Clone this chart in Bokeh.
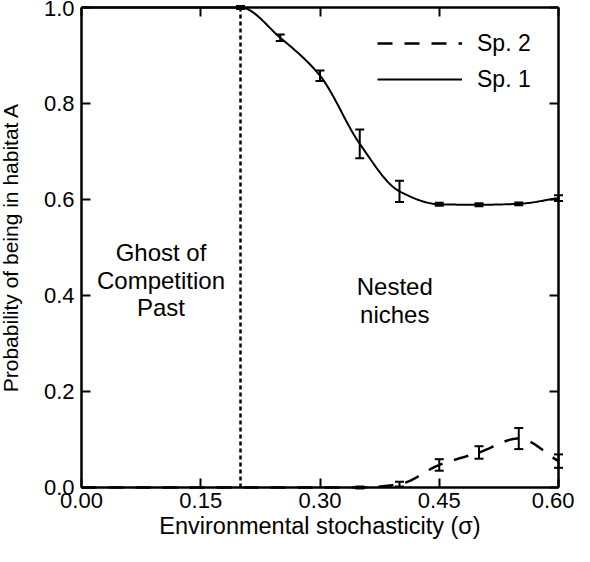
import numpy as np
from bokeh.plotting import figure
from bokeh.models import (ColumnDataSource, Whisker, TeeHead, LinearAxis, FixedTicker,
                          NumeralTickFormatter, Label, Legend, LegendItem, Range1d)
from bokeh.embed import file_html
from bokeh.resources import INLINE

# ---------------- data ----------------
sigma = [0.00, 0.05, 0.10, 0.15, 0.20, 0.25, 0.30, 0.35, 0.40, 0.45, 0.50, 0.55, 0.60]
sp1 = [1.0, 1.0, 1.0, 1.0, 1.0, 0.937, 0.858, 0.716, 0.617, 0.590, 0.589, 0.591, 0.603]
sp1_err = [0.0, 0.0, 0.0, 0.0, 0.003, 0.007, 0.011, 0.030, 0.022, 0.003, 0.003, 0.003, 0.006]
sp2 = [0.0, 0.0, 0.0, 0.0, 0.0, 0.0, 0.0, 0.0, 0.007, 0.047, 0.073, 0.102, 0.055]
sp2_err = [0.0, 0.0, 0.0, 0.0, 0.0, 0.0, 0.0, 0.002, 0.005, 0.012, 0.013, 0.022, 0.014]
boundary = 0.20
x_ticks = [0.00, 0.15, 0.30, 0.45, 0.60]
y_ticks = [0.0, 0.2, 0.4, 0.6, 0.8, 1.0]
X_MIN, X_MAX = 0.0, 0.6
Y_MIN, Y_MAX = 0.0, 1.0

FONT = "Liberation Sans"

# ---------------- layout (pixels) ----------------
W, H = 574, 546            # whole figure = frame
PAD_L, PAD_R, PAD_T, PAD_B = 81, 16, 7, 59   # space around the data box
px_x = (W - PAD_L - PAD_R) / (X_MAX - X_MIN)
px_y = (H - PAD_T - PAD_B) / (Y_MAX - Y_MIN)


def pchip(x, y, n=400):
    """Monotone cubic (Fritsch-Carlson) curve through the data points."""
    x = np.asarray(x, float)
    y = np.asarray(y, float)
    h = np.diff(x)
    d = np.diff(y) / h
    m = np.zeros_like(y)
    for k in range(1, len(x) - 1):
        if d[k - 1] * d[k] > 0:
            w1 = 2 * h[k] + h[k - 1]
            w2 = h[k] + 2 * h[k - 1]
            m[k] = (w1 + w2) / (w1 / d[k - 1] + w2 / d[k])
    m[0] = d[0]
    m[-1] = d[-1]
    xs = np.linspace(x[0], x[-1], n)
    idx = np.clip(np.searchsorted(x, xs) - 1, 0, len(x) - 2)
    t = (xs - x[idx]) / h[idx]
    h00 = 2 * t**3 - 3 * t**2 + 1
    h10 = t**3 - 2 * t**2 + t
    h01 = -2 * t**3 + 3 * t**2
    h11 = t**3 - t**2
    ys = h00 * y[idx] + h10 * h[idx] * m[idx] + h01 * y[idx + 1] + h11 * h[idx] * m[idx + 1]
    return xs, ys


p = figure(frame_width=W, frame_height=H, output_backend="svg", toolbar_location=None,
           x_range=Range1d(X_MIN - PAD_L / px_x, X_MAX + PAD_R / px_x),
           y_range=Range1d(Y_MIN - PAD_B / px_y, Y_MAX + PAD_T / px_y),
           min_border=0, min_border_left=0, min_border_right=0,
           min_border_top=0, min_border_bottom=0)
p.outline_line_color = None
p.grid.visible = False
p.background_fill_color = "white"
p.border_fill_color = "white"

# main axes, drawn at fixed data locations (box corners)
for ax in (p.xaxis[0], p.yaxis[0]):
    ax.axis_line_width = 2.5
    ax.axis_line_color = "black"
    ax.major_tick_in = 9
    ax.major_tick_out = 0
    ax.major_tick_line_width = 2
    ax.major_tick_line_color = "black"
    ax.minor_tick_line_color = None
    ax.major_label_text_font = FONT
    ax.major_label_text_font_size = "22px"
    ax.major_label_text_color = "black"
    ax.axis_label_text_font = FONT
    ax.axis_label_text_font_style = "normal"
    ax.axis_label_text_color = "black"

p.xaxis.fixed_location = Y_MIN
p.xaxis.bounds = (X_MIN, X_MAX)
p.xaxis.ticker = FixedTicker(ticks=x_ticks)
p.xaxis.formatter = NumeralTickFormatter(format="0.00")
p.xaxis.axis_label = "Environmental stochasticity (σ)"
p.xaxis.axis_label_text_font_size = "23.5px"
p.xaxis.major_label_standoff = 5
p.xaxis.axis_label_standoff = 2

p.yaxis.fixed_location = X_MIN
p.yaxis.bounds = (Y_MIN, Y_MAX)
p.yaxis.ticker = FixedTicker(ticks=y_ticks)
p.yaxis.formatter = NumeralTickFormatter(format="0.0")
p.yaxis.axis_label = "Probability of being in habitat A"
p.yaxis.axis_label_text_font_size = "21px"
p.yaxis.major_label_standoff = 7
p.yaxis.axis_label_standoff = 19

# box axes (top / right) with inward ticks, no labels
for loc, tk, fixed, bnds in (("above", x_ticks, Y_MAX, (X_MIN, X_MAX)),
                             ("right", y_ticks, X_MAX, (Y_MIN, Y_MAX))):
    ax = LinearAxis(ticker=FixedTicker(ticks=tk), axis_line_width=2.5, axis_line_color="black",
                    major_tick_in=9, major_tick_out=0, major_tick_line_width=2,
                    major_tick_line_color="black", fixed_location=fixed, bounds=bnds,
                    minor_tick_line_color=None, major_label_standoff=0,
                    major_label_overrides={t: "" for t in tk})
    p.add_layout(ax, loc)

# boundary dotted line
p.segment(x0=[boundary], y0=[Y_MIN], x1=[boundary], y1=[Y_MAX], line_color="black",
          line_width=2.5, line_dash="4 3")

# curves
x1, y1 = pchip(sigma, sp1)
x2, y2 = pchip(sigma, sp2)
r2 = p.line(x2, y2, line_color="black", line_width=2.5, line_dash="15 12")
r1 = p.line(x1, y1, line_color="black", line_width=2)

# error bars (only where an error was measured)
for vals, errs in ((sp1, sp1_err), (sp2, sp2_err)):
    keep = [i for i, e in enumerate(errs) if e > 0]
    src = ColumnDataSource(dict(x=[sigma[i] for i in keep],
                                upper=[vals[i] + errs[i] for i in keep],
                                lower=[vals[i] - errs[i] for i in keep]))
    w = Whisker(source=src, base="x", upper="upper", lower="lower",
                line_color="black", line_width=2,
                upper_head=TeeHead(size=9, line_width=2, line_color="black"),
                lower_head=TeeHead(size=9, line_width=2, line_color="black"))
    p.add_layout(w)

# region labels
p.add_layout(Label(x=0.10, y=0.432, text="Ghost of\nCompetition\nPast", text_align="center",
                   text_baseline="middle", text_font=FONT, text_font_size="24px",
                   text_color="black", text_line_height=1.02))
p.add_layout(Label(x=0.394, y=0.39, text="Nested\nniches", text_align="center",
                   text_baseline="middle", text_font=FONT, text_font_size="24px",
                   text_color="black", text_line_height=1.02))

# legend
legend = Legend(items=[LegendItem(label="Sp. 2", renderers=[r2]),
                       LegendItem(label="Sp. 1", renderers=[r1])],
                location=(377, 449), orientation="vertical",
                glyph_width=85, glyph_height=36, label_height=36, label_standoff=15,
                spacing=0, padding=0, margin=0,
                label_text_font=FONT, label_text_font_size="23px", label_text_color="black",
                border_line_color=None, background_fill_alpha=0)
p.add_layout(legend)

open("out.html", "w").write(file_html(p, INLINE))
